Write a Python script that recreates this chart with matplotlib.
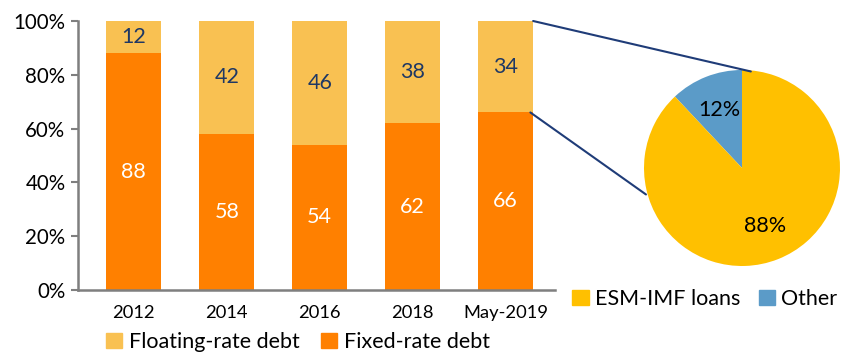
import matplotlib
matplotlib.use("Agg")
import matplotlib.pyplot as plt
from matplotlib.patches import Patch, ConnectionPatch

plt.rcParams['font.family'] = ['Lato', 'DejaVu Sans']

categories = ["2012", "2014", "2016", "2018", "May-2019"]
fixed_rate = [88, 58, 54, 62, 66]
floating_rate = [12, 42, 46, 38, 34]
y_ticks = [0, 20, 40, 60, 80, 100]

pie_labels = ["Other", "ESM-IMF loans"]
pie_values = [12, 88]

c_fixed = "#FF8000"
c_float = "#F9C152"
c_esm = "#FFC000"
c_other = "#5B9BC8"
c_label_dark = "#1F3864"
c_link = "#1F3C78"

fig = plt.figure(figsize=(8.44, 3.55), dpi=100)

# Stacked bar chart
ax = fig.add_axes([78/844, 1 - 290/355, (555 - 78)/844, (290 - 21)/355])
x = list(range(len(categories)))
w = 0.59
ax.bar(x, fixed_rate, w, color=c_fixed, label="Fixed-rate debt")
ax.bar(x, floating_rate, w, bottom=fixed_rate, color=c_float, label="Floating-rate debt")

for xi, fv, fl in zip(x, fixed_rate, floating_rate):
    ax.text(xi, fv / 2, f"{fv}", ha="center", va="center", color="white", fontsize=15.5)
    ax.text(xi, fv + fl / 2, f"{fl}", ha="center", va="center", color=c_label_dark, fontsize=15.5)

ax.set_xlim(-0.6, 4.53)
ax.set_ylim(0, 100)
ax.set_yticks(y_ticks)
ax.set_yticklabels([f"{t}%" for t in y_ticks], fontsize=14.8)
ax.set_xticks(x)
ax.set_xticklabels(categories, fontsize=13.2)
ax.tick_params(axis="x", length=0, pad=11)
ax.tick_params(axis="y", length=5, width=1.5, color="#7F7F7F", pad=4)
for s in ["top", "right"]:
    ax.spines[s].set_visible(False)
for s in ["left", "bottom"]:
    ax.spines[s].set_color("#7F7F7F")
    ax.spines[s].set_linewidth(1.8)

fig.legend(handles=[Patch(color=c_float, label="Floating-rate debt"),
                    Patch(color=c_fixed, label="Fixed-rate debt")],
           loc="center", bbox_to_anchor=(298/844, 1 - 342/355), ncol=2, frameon=False,
           fontsize=15.5, handlelength=0.75, handleheight=0.75, handletextpad=0.3,
           columnspacing=1.0, borderpad=0)

# Pie chart of the floating-rate share
r_px = 98
cx, cy = 742, 168
pax = fig.add_axes([(cx - r_px)/844, (355 - cy - r_px)/355, 2*r_px/844, 2*r_px/355])
pax.pie(pie_values, colors=[c_other, c_esm], startangle=90,
        counterclock=True, autopct="%d%%", pctdistance=0.64,
        textprops=dict(fontsize=15.5, color="black"),
        wedgeprops=dict(linewidth=0))
pax.set_xlim(-1, 1)
pax.set_ylim(-1, 1)
pax.set_aspect("auto")
pax.axis("off")

fig.legend(handles=[Patch(color=c_esm, label="ESM-IMF loans"),
                    Patch(color=c_other, label="Other")],
           loc="center", bbox_to_anchor=(705/844, 1 - 299/355), ncol=2, frameon=False,
           fontsize=15.5, handlelength=0.75, handleheight=0.75, handletextpad=0.3,
           columnspacing=0.85, borderpad=0)

# Connector lines from the May-2019 floating segment to the pie
last = len(categories) - 1
con1 = ConnectionPatch(xyA=(last + w/2, 100), coordsA=ax.transData,
                       xyB=(0.09, 0.985), coordsB=pax.transData,
                       color=c_link, linewidth=1.5)
con2 = ConnectionPatch(xyA=(last + w/2 - 0.03, fixed_rate[last]), coordsA=ax.transData,
                       xyB=(-0.98, -0.27), coordsB=pax.transData,
                       color=c_link, linewidth=1.5)
fig.add_artist(con1)
fig.add_artist(con2)

fig.savefig("out.png", dpi=100)
